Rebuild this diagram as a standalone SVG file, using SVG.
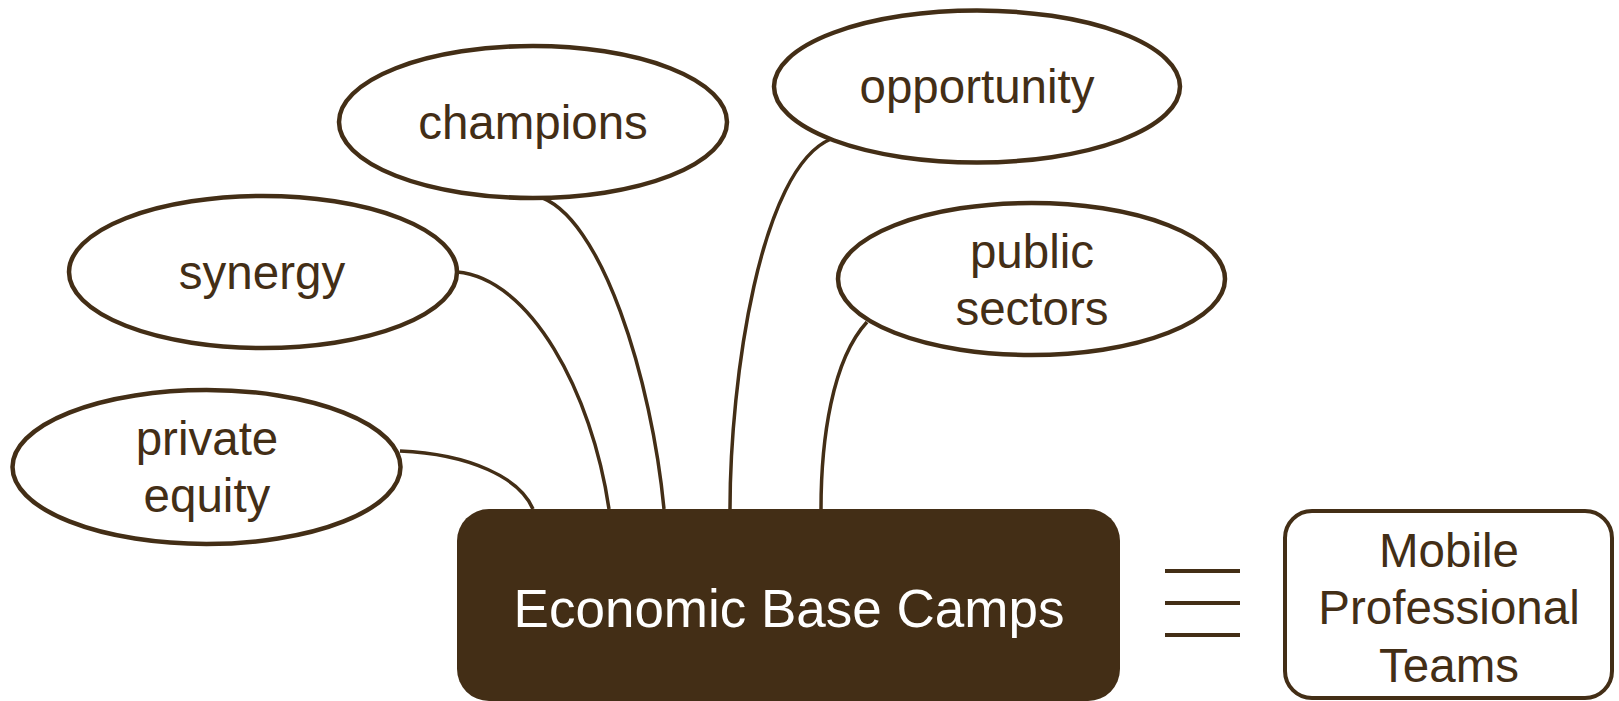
<svg xmlns="http://www.w3.org/2000/svg" width="1619" height="701" viewBox="0 0 1619 701">
<style>
.el{fill:#ffffff;stroke:#432e16;stroke-width:4.5}
.t{font-family:"Liberation Sans",Arial,sans-serif;font-size:47.5px;fill:#432e16;text-anchor:middle}
.c{fill:none;stroke:#432e16;stroke-width:3.5}
.eq{stroke:#432e16;stroke-width:4}
</style>
<rect width="1619" height="701" fill="#ffffff"/>
<g id="connectors">
<path class="c" d="M400,451 C470,454 520,478 533,509"/>
<path class="c" d="M457,272 C530,278 592,392 609,509"/>
<path class="c" d="M537,196 C602,214 652,382 664,509"/>
<path class="c" d="M831,139 C760,168 730,380 730,509"/>
<path class="c" d="M867,322 C832,360 821,440 821,509"/>
</g>
<g id="champions">
<ellipse class="el" cx="533" cy="122" rx="194" ry="76"/>
<text class="t" x="533" y="139">champions</text>
</g>
<g id="opportunity">
<ellipse class="el" cx="977" cy="86.5" rx="203" ry="76"/>
<text class="t" x="977" y="103">opportunity</text>
</g>
<g id="synergy">
<ellipse class="el" cx="263" cy="272" rx="194" ry="76"/>
<text class="t" x="262" y="289">synergy</text>
</g>
<g id="public-sectors">
<ellipse class="el" cx="1031.5" cy="279" rx="193.5" ry="76"/>
<text class="t" x="1032" y="268">public</text>
<text class="t" x="1032" y="325">sectors</text>
</g>
<g id="private-equity">
<ellipse class="el" cx="206.5" cy="467" rx="194" ry="77"/>
<text class="t" x="207" y="455">private</text>
<text class="t" x="207" y="512">equity</text>
</g>
<g id="economic-base-camps">
<rect x="457" y="509" width="663" height="192" rx="32" ry="32" fill="#432e16"/>
<text x="789" y="627" font-family="&quot;Liberation Sans&quot;,Arial,sans-serif" font-size="53" fill="#ffffff" text-anchor="middle">Economic Base Camps</text>
</g>
<g id="equivalence">
<line class="eq" x1="1165" y1="571" x2="1240" y2="571"/>
<line class="eq" x1="1165" y1="603" x2="1240" y2="603"/>
<line class="eq" x1="1165" y1="635" x2="1240" y2="635"/>
</g>
<g id="mobile-professional-teams">
<rect x="1285" y="511" width="327" height="187" rx="27" ry="27" fill="#ffffff" stroke="#432e16" stroke-width="4"/>
<text class="t" x="1449" y="567">Mobile</text>
<text class="t" x="1449" y="624">Professional</text>
<text class="t" x="1449" y="682">Teams</text>
</g>
</svg>
